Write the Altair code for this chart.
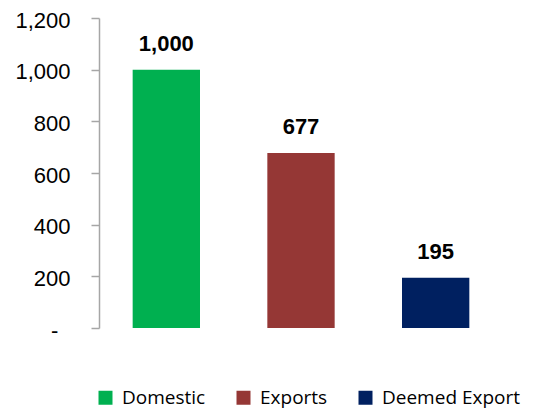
import altair as alt
import pandas as pd

categories = ["Domestic", "Exports", "Deemed Export"]
values = [1000, 677, 195]
colors = ["#00B050", "#953735", "#002060"]

df = pd.DataFrame({"category": categories, "value": values})

x = alt.X("category:N", sort=categories, axis=None,
          scale=alt.Scale(paddingInner=0.5, paddingOuter=0.25))
y = alt.Y("value:Q", scale=alt.Scale(domain=[0, 1200]),
          axis=alt.Axis(values=[0, 200, 400, 600, 800, 1000, 1200], grid=False,
                        title=None, domainColor="#a6a6a6", tickColor="#a6a6a6",
                        tickSize=8, domainWidth=1.5, tickWidth=1.5,
                        labelPadding=21, labelOffset=2,
                        labelFont="Liberation Sans", labelFontSize=22,
                        labelColor="#000000",
                        labelExpr="datum.value == 0 ? '-\\u00a0\\u00a0\\u200b' : format(datum.value, ',')"))

bars = alt.Chart(df).mark_bar().encode(
    x=x, y=y,
    color=alt.Color("category:N", sort=categories,
                    scale=alt.Scale(domain=categories, range=colors),
                    legend=alt.Legend(orient="none", direction="horizontal", title=None,
                                      legendX=-3, legendY=370, padding=0,
                                      symbolType="square", symbolSize=196,
                                      symbolStrokeWidth=0, labelFont="Open Sans",
                                      labelFontSize=19, labelColor="#000000",
                                      labelOffset=7, columnPadding=28,
                                      labelLimit=300)),
)

labels = alt.Chart(df).mark_text(font="Liberation Sans", fontWeight="bold", fontSize=22,
                                 baseline="bottom", dy=-14, color="#000000").encode(
    x=alt.X("category:N", sort=categories), y="value:Q", text=alt.Text("value:Q", format=","))

chart = (bars + labels).properties(
    width=404, height=310,
    autosize=alt.AutoSizeParams(type="none"),
    padding={"left": 91, "top": 10, "right": 22, "bottom": 84},
).configure_view(stroke=None)

chart.save("out.html", embed_options={"renderer": "svg", "actions": False})
